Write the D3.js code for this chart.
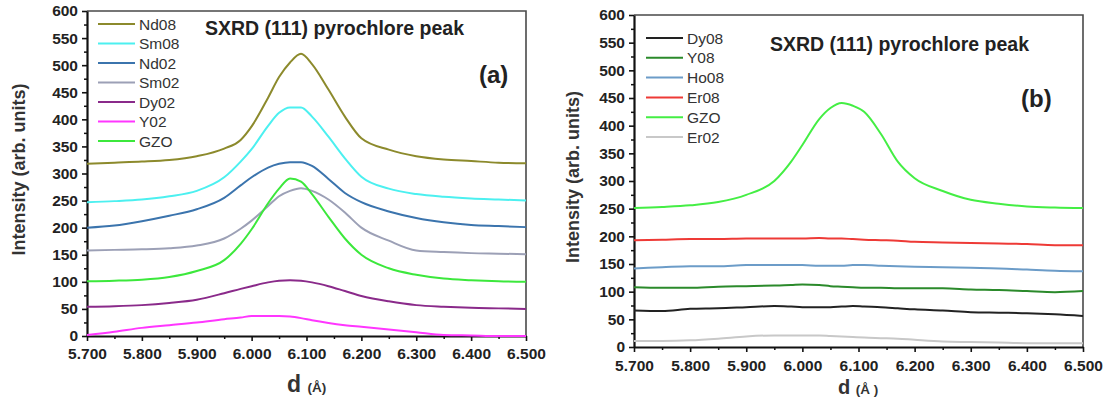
<!DOCTYPE html>
<html><head><meta charset="utf-8">
<script src="https://cdn.jsdelivr.net/npm/d3@7/dist/d3.min.js"></script>
<style>
body{margin:0;background:#fff;}
svg{display:block;font-family:"Liberation Sans",Arial,sans-serif;}
.tk text{font-family:"Liberation Sans",Arial,sans-serif;font-size:15.5px;font-weight:bold;fill:#222;}
</style></head>
<body><svg id="c" width="1107" height="400"></svg>
<script>
// shared d grid (Å)
const dGrid = [5.70,5.75,5.80,5.85,5.90,5.95,5.98,6.00,6.03,6.05,6.07,6.09,6.11,6.14,6.17,6.20,6.25,6.30,6.35,6.40,6.45,6.50];

// panel (a) series
const namesA = ["Nd08","Sm08","Nd02","Sm02","Dy02","Y02","GZO"];
const colorsA = ["#8c8a2c","#4cf0f0","#3b74ad","#9ca0b6","#8a2a8a","#ff36ff","#3ce83c"];
const nd08 = [318,320,322,325,332,346,362,387,440,478,505,521,502,455,405,365,344,332,326,323,320,319];
const sm08 = [247,249,252,258,268,293,322,345,388,412,422,422,405,368,328,294,272,262,257,254,252,250];
const nd02 = [200,204,212,222,234,255,278,293,311,318,321,321,314,290,264,247,230,218,210,205,203,201];
const sm02 = [158,159,160,162,167,180,198,213,240,258,268,273,268,252,228,200,176,158,155,153,152,151];
const dy02 = [54,55,57,61,67,79,87,92,99,102,103,102,99,92,83,74,64,57,54,52,51,50];
const y02  = [2,8,15,20,25,31,34,37,37,37,36,33,29,24,20,17,12,7,2,1,0,0];
const gzoA = [101,102,104,109,120,140,170,197,245,272,291,285,262,220,180,150,125,113,106,103,101,100];
const seriesA = [nd08,sm08,nd02,sm02,dy02,y02,gzoA];

// panel (b) series
const namesB = ["Dy08","Y08","Ho08","Er08","GZO","Er02"];
const colorsB = ["#222222","#2b8a2b","#6c9cc8","#ee3a36","#44ee44","#c8c8c8"];
const dy08 = [66,65,69,70,72,74,73,72,72,72,73,74,73,72,70,68,66,63,62,61,59,56];
const y08  = [108,107,107,109,110,111,112,113,112,110,109,108,107,107,106,106,106,104,103,101,99,101];
const ho08 = [142,144,146,146,148,148,148,148,147,147,147,148,148,147,146,145,144,143,142,140,138,137];
const er08 = [193,194,195,195,196,196,196,196,197,196,196,195,194,193,192,190,189,188,187,186,184,184];
const gzoB = [251,253,256,262,275,300,335,365,412,432,441,436,425,385,335,305,282,266,259,254,252,251];
const er02 = [11,11,12,15,19,21,21,21,21,20,19,18,17,16,15,13,10,9,8,7,7,7];
const seriesB = [dy08,y08,ho08,er08,gzoB,er02];

const xTicks = [5.7,5.8,5.9,6.0,6.1,6.2,6.3,6.4,6.5];
const yTicks = [0,50,100,150,200,250,300,350,400,450,500,550,600];
const title = "SXRD (111) pyrochlore peak";
const yTitle = "Intensity (arb. units)";

const svg = d3.select("#c");

function panel(cfg){
  const {L,R,T,B,names,colors,series,tag,titleX,titleY,tagX,tagY,legX,legY,legStep,yTitleX,xTitleX,xTitleY,dSize,xLabY} = cfg;
  const x = d3.scaleLinear().domain([5.7,6.5]).range([L,R]);
  const y = d3.scaleLinear().domain([0,600]).range([B,T]);
  const g = svg.append("g");

  // frame top/right
  g.append("path").attr("d",`M${L},${T}H${R}V${B}`).attr("fill","none").attr("stroke","#4a4a4a").attr("stroke-width",1.6);

  // minor ticks
  g.append("g").attr("transform",`translate(0,${B})`)
    .call(d3.axisBottom(x).tickValues(d3.range(5.75,6.5,0.1)).tickSize(3).tickFormat(""))
    .call(a=>a.select(".domain").remove()).selectAll("line").attr("stroke","#111").attr("stroke-width",1.5);
  g.append("g").attr("transform",`translate(${L},0)`)
    .call(d3.axisLeft(y).tickValues(d3.range(25,600,50)).tickSize(3).tickFormat(""))
    .call(a=>a.select(".domain").remove()).selectAll("line").attr("stroke","#111").attr("stroke-width",1.5);

  // major axes
  const xa = g.append("g").attr("class","tk").attr("transform",`translate(0,${B})`)
    .call(d3.axisBottom(x).tickValues(xTicks).tickSize(5).tickSizeOuter(0).tickPadding(6).tickFormat(d3.format(".3f")));
  const ya = g.append("g").attr("class","tk").attr("transform",`translate(${L},0)`)
    .call(d3.axisLeft(y).tickValues(yTicks).tickSize(5).tickSizeOuter(0).tickPadding(4));
  [xa,ya].forEach(a=>{
    a.attr("font-size",null).attr("font-family",null);
    a.select(".domain").attr("stroke","#111").attr("stroke-width",2.2);
    a.selectAll("line").attr("stroke","#111").attr("stroke-width",1.6);
  });
  xa.selectAll("text").attr("y", xLabY - B).attr("dy",0);

  // lines
  const line = d3.line().x((v,i)=>x(dGrid[i])).y(v=>y(v)).curve(d3.curveMonotoneX);
  series.forEach((s,i)=>{
    g.append("path").datum(s).attr("d",line).attr("fill","none")
      .attr("stroke",colors[i]).attr("stroke-width",2).attr("stroke-linejoin","round");
  });

  // legend
  names.forEach((n,i)=>{
    const yy = legY + i*legStep;
    g.append("line").attr("x1",legX).attr("x2",legX+37).attr("y1",yy).attr("y2",yy)
      .attr("stroke",colors[i]).attr("stroke-width",2);
    g.append("text").attr("x",legX+41).attr("y",yy+5.5).attr("font-size",15.5).attr("fill","#333").text(n);
  });

  // titles
  g.append("text").attr("x",titleX).attr("y",titleY).attr("font-size",19.5).attr("font-weight","bold").attr("fill","#222").text(title);
  g.append("text").attr("x",tagX).attr("y",tagY).attr("font-size",24).attr("font-weight","bold").attr("fill","#222").text(tag);
  g.append("text").attr("transform",`translate(${yTitleX},${(T+B)/2 - 4}) rotate(-90)`)
    .attr("text-anchor","middle").attr("font-size",18).attr("font-weight","bold").attr("fill","#333").text(yTitle);
  const xt = g.append("text").attr("x",xTitleX).attr("y",xTitleY).attr("fill","#333");
  xt.append("tspan").attr("font-size",dSize).attr("font-weight","bold").text("d ");
  xt.append("tspan").attr("font-size",13.5).attr("font-weight","bold").text(cfg.aLabel);
}

panel({L:87,R:526,T:11,B:336,names:namesA,colors:colorsA,series:seriesA,tag:"(a)",
  titleX:205,titleY:35,tagX:479,tagY:83,legX:98,legY:24,legStep:19.5,yTitleX:25,
  xTitleX:287,xTitleY:392,dSize:23,xLabY:359,aLabel:"(Å)"});
panel({L:634,R:1083,T:15,B:347,names:namesB,colors:colorsB,series:seriesB,tag:"(b)",
  titleX:770,titleY:51,tagX:1021,tagY:107,legX:646,legY:38,legStep:19.8,yTitleX:579,
  xTitleX:838,xTitleY:394,dSize:20,xLabY:371,aLabel:"(Å )"});
</script>
</body></html>
